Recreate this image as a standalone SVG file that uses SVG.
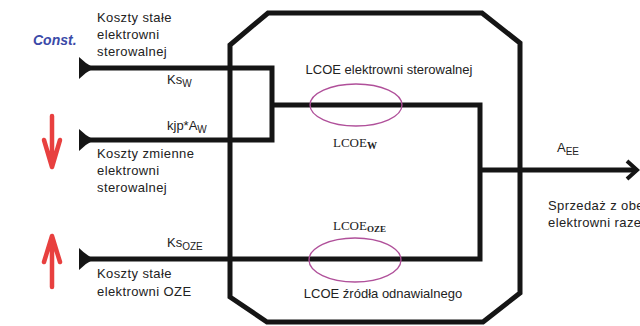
<svg xmlns="http://www.w3.org/2000/svg" width="640" height="326" viewBox="0 0 640 326">
<style>
.t{font-family:"Liberation Sans",Arial,sans-serif;font-size:13px;fill:#222}
.k{letter-spacing:0.4px}
.s{font-family:"Liberation Serif","Times New Roman",serif;font-size:13px;fill:#222}
.ln{fill:none;stroke:#151515;stroke-width:5;stroke-linejoin:miter}
.el{fill:none;stroke:#b0509a;stroke-width:1.3}
.red{fill:none;stroke:#e8403f;stroke-width:4.5;stroke-linecap:round;stroke-linejoin:round}
</style>
<rect width="640" height="326" fill="#fff"/>
<g id="plant">
<polygon class="ln" points="268,13 482,13 520,43 520,293 483,322 267,322 230,297 230,45"/>
</g>
<g id="connectors">
<polyline class="ln" points="82,68 272,68 272,140 82,140"/>
<polyline class="ln" points="272,105 480,105 480,259 82,259"/>
<line class="ln" x1="480" y1="170" x2="636" y2="170"/>
<polyline fill="none" stroke="#151515" stroke-width="4" points="627,161 637,170 627,179"/>
<path fill="#151515" d="M79,57 Q86,64 94,68 Q86,72 79,79 Z"/>
<path fill="#151515" d="M79,129 Q86,136 94,140 Q86,144 79,151 Z"/>
<path fill="#151515" d="M79,248 Q86,255 94,259 Q86,263 79,270 Z"/>
</g>
<g id="ellipse-w"><ellipse class="el" cx="356" cy="105" rx="46" ry="21"/></g>
<g id="ellipse-oze"><ellipse class="el" cx="355" cy="260" rx="46" ry="22"/></g>
<g id="const"><text x="33" y="45" font-family="Liberation Sans,Arial,sans-serif" font-size="14" font-weight="bold" font-style="italic" fill="#3b4aa8">Const.</text></g>
<g id="arrow-down"><path class="red" d="M52,116 V167 M44,140 L52,167 L60,140"/></g>
<g id="arrow-up"><path class="red" d="M52,287 V236 M44,262 L52,236 L60,262"/></g>
<g id="labels">
<text class="t k" x="97" y="22">Koszty stałe</text>
<text class="t k" x="97" y="39">elektrowni</text>
<text class="t k" x="97" y="56">sterowalnej</text>
<text class="t" x="167" y="84">Ks<tspan font-size="10" dy="3">W</tspan></text>
<text class="t" x="167" y="130">kjp*A<tspan font-size="10" dy="3">W</tspan></text>
<text class="t k" x="97" y="158">Koszty zmienne</text>
<text class="t k" x="97" y="175">elektrowni</text>
<text class="t k" x="97" y="192">sterowalnej</text>
<text class="t" x="167" y="247">Ks<tspan font-size="10" dy="3">OZE</tspan></text>
<text class="t k" x="97" y="278">Koszty stałe</text>
<text class="t k" x="97" y="296">elektrowni OZE</text>
<text class="t" x="389" y="74" text-anchor="middle">LCOE elektrowni sterowalnej</text>
<text class="s" x="333" y="147">LCOE<tspan font-size="10" font-weight="bold" dy="2">W</tspan></text>
<text class="s" x="333" y="230">LCOE<tspan font-size="9" font-weight="bold" dy="2">OZE</tspan></text>
<text class="t" x="383" y="298" text-anchor="middle">LCOE źródła odnawialnego</text>
<text class="t" x="557" y="152">A<tspan font-size="10" dy="3">EE</tspan></text>
<text class="t k" x="548" y="210">Sprzedaż z obe</text>
<text class="t k" x="548" y="227">elektrowni raze</text>
</g>
</svg>
